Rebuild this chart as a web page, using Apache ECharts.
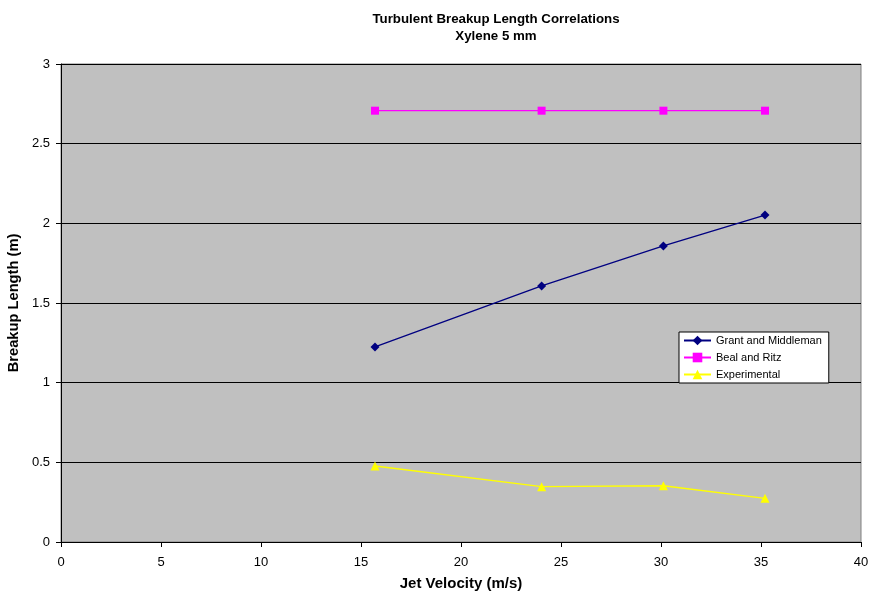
<!DOCTYPE html>
<html>
<head>
<meta charset="utf-8">
<script src="https://cdn.jsdelivr.net/npm/echarts@6/dist/echarts.min.js"></script>
<style>
  html, body { margin: 0; padding: 0; background: #fff; }
  #chart { width: 870px; height: 597px; }
</style>
</head>
<body>
<div id="chart"></div>
<script>
// Jet velocity (m/s) at each measured condition
const velocity = [15.7, 24.03, 30.12, 35.2];
// Breakup length (m) per correlation
const grantMiddleman = [1.224, 1.607, 1.858, 2.052];
const bealRitz = [2.707, 2.707, 2.707, 2.707];
const experimental = [0.477, 0.347, 0.353, 0.274];

const pairs = ys => velocity.map((v, i) => [v, ys[i]]);
const font = 'Liberation Sans, Arial, sans-serif';

const chart = echarts.init(document.getElementById('chart'), null, { renderer: 'canvas' });
chart.setOption({
  animation: false,
  backgroundColor: '#ffffff',
  title: {
    text: 'Turbulent Breakup Length Correlations\nXylene 5 mm',
    left: 491, top: 6, textAlign: 'center',
    textStyle: { fontFamily: font, fontSize: 13.3, fontWeight: 'bold', color: '#000', lineHeight: 17 }
  },
  grid: {
    left: 61, right: 9, top: 64, bottom: 55,
    outerBoundsMode: 'none', containLabel: false,
    show: true, backgroundColor: '#c0c0c0', borderColor: '#808080', borderWidth: 1
  },
  legend: {
    orient: 'vertical', left: 679, top: 332,
    backgroundColor: '#ffffff', borderColor: '#000', borderWidth: 1,
    padding: [3, 7, 3, 4], itemGap: 6, itemWidth: 27, itemHeight: 12,
    textStyle: { fontFamily: font, fontSize: 11, color: '#000' },
    data: ['Grant and Middleman', 'Beal and Ritz', 'Experimental']
  },
  xAxis: {
    type: 'value', min: 0, max: 40, interval: 5,
    name: 'Jet Velocity (m/s)', nameLocation: 'middle', nameGap: 34,
    nameTextStyle: { fontFamily: font, fontSize: 15, fontWeight: 'bold', color: '#000' },
    axisLine: { show: true, onZero: false, lineStyle: { color: '#000', width: 1 } },
    axisTick: { show: true, length: 5, inside: false, lineStyle: { color: '#000' } },
    axisLabel: { fontFamily: font, fontSize: 13, color: '#000', margin: 14 },
    splitLine: { show: false }
  },
  yAxis: {
    type: 'value', min: 0, max: 3, interval: 0.5,
    name: 'Breakup Length (m)', nameLocation: 'middle', nameGap: 33, nameRotate: 90,
    nameTextStyle: { fontFamily: font, fontSize: 14.7, fontWeight: 'bold', color: '#000' },
    axisLine: { show: true, lineStyle: { color: '#000', width: 1 } },
    axisTick: { show: true, length: 5, inside: false, lineStyle: { color: '#000' } },
    axisLabel: { fontFamily: font, fontSize: 13, color: '#000', margin: 11 },
    splitLine: { show: true, lineStyle: { color: '#000', width: 1 } }
  },
  series: [
    {
      name: 'Grant and Middleman', type: 'line', data: pairs(grantMiddleman),
      symbol: 'diamond', symbolSize: 9,
      lineStyle: { color: '#000080', width: 1.3 }, itemStyle: { color: '#000080' }
    },
    {
      name: 'Beal and Ritz', type: 'line', data: pairs(bealRitz),
      symbol: 'rect', symbolSize: 8,
      lineStyle: { color: '#ff00ff', width: 1.3 }, itemStyle: { color: '#ff00ff' }
    },
    {
      name: 'Experimental', type: 'line', data: pairs(experimental),
      symbol: 'triangle', symbolSize: 9,
      lineStyle: { color: '#ffff00', width: 1.3 }, itemStyle: { color: '#ffff00' }
    }
  ]
});
</script>
</body>
</html>
